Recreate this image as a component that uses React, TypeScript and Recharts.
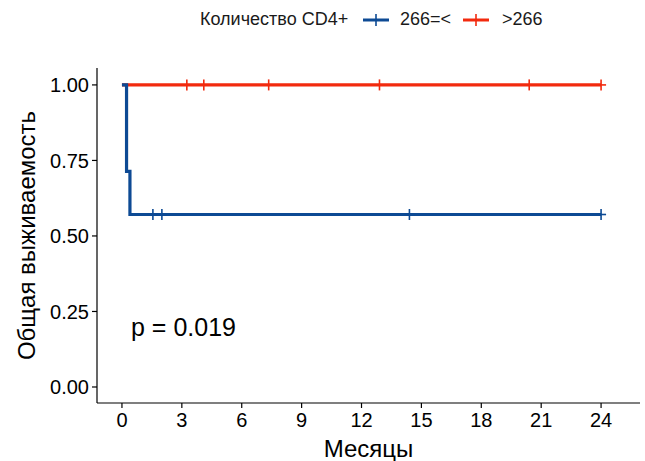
import { ComposedChart, Line, XAxis, YAxis } from 'recharts';

const lowTime = [0, 0.23, 0.4, 1.55, 2.0, 14.4, 24];
const lowSurv = [1, 0.714, 0.571, 0.571, 0.571, 0.571, 0.571];
const lowCensor = [false, false, false, true, true, true, true];

const highTime = [0, 3.25, 4.1, 7.35, 12.9, 20.4, 24];
const highSurv = [1, 1, 1, 1, 1, 1, 1];
const highCensor = [false, true, true, true, true, true, true];

const xTicks = [0, 3, 6, 9, 12, 15, 18, 21, 24];
const yTicks = [0, 0.25, 0.5, 0.75, 1];

const BLUE = '#0D4A94';
const RED = '#F22A0E';
const FONT = '"Liberation Sans", Arial, sans-serif';

const lowData = lowTime.map((t, i) => ({ time: t, surv: lowSurv[i], censor: lowCensor[i] }));
const highData = highTime.map((t, i) => ({ time: t, surv: highSurv[i], censor: highCensor[i] }));

const censorDot = (color: string) => (props: any) => {
  const { cx, cy, payload, index } = props;
  if (!payload || !payload.censor) return <g key={index} />;
  return (
    <g key={index}>
      <line x1={cx} x2={cx} y1={cy - 5.5} y2={cy + 5.5} stroke={color} strokeWidth={1.6} />
      <line x1={cx - 5} x2={cx + 5} y1={cy} y2={cy} stroke={color} strokeWidth={1.6} />
    </g>
  );
};

function LegendKey({ color, left }: { color: string; left: number }) {
  return (
    <svg width={26} height={12} style={{ position: 'absolute', left, top: 14 }}>
      <line x1={0} x2={26} y1={6} y2={6} stroke={color} strokeWidth={3} />
      <line x1={13} x2={13} y1={0} y2={12} stroke={color} strokeWidth={1.6} />
    </svg>
  );
}

const legendText = { position: 'absolute' as const, top: 9, fontSize: 18, color: '#1a1a1a', whiteSpace: 'nowrap' as const };

export default function App() {
  return (
    <div style={{ position: 'absolute', left: 0, top: 0, width: 645, height: 461, background: '#fff', fontFamily: FONT }}>
      <span style={{ ...legendText, left: 200 }}>Количество CD4+</span>
      <LegendKey color={BLUE} left={363} />
      <span style={{ ...legendText, left: 400 }}>266=&lt;</span>
      <LegendKey color={RED} left={463} />
      <span style={{ ...legendText, left: 502 }}>&gt;266</span>
      <ComposedChart width={645} height={461} margin={{ top: 68, right: 5, bottom: 0, left: 0 }}>
        <XAxis
          type="number"
          dataKey="time"
          domain={[-1.25, 25.95]}
          ticks={xTicks}
          allowDataOverflow
          stroke="#000"
          strokeWidth={1.2}
          tickSize={5}
          tickMargin={5}
          tick={{ fill: '#000', fontSize: 20, fontFamily: FONT }}
          height={58}
          label={{ value: 'Месяцы', position: 'insideBottom', offset: 4, fill: '#000', fontSize: 24, fontFamily: FONT }}
        />
        <YAxis
          type="number"
          domain={[-0.053, 1.056]}
          ticks={yTicks}
          allowDataOverflow
          tickFormatter={(v: number) => v.toFixed(2)}
          stroke="#000"
          strokeWidth={1.2}
          tickSize={5}
          tickMargin={3}
          tick={{ fill: '#000', fontSize: 20, fontFamily: FONT }}
          width={97}
          label={{ value: 'Общая выживаемость', angle: -90, position: 'insideLeft', offset: 26, fill: '#000', fontSize: 24, fontFamily: FONT, style: { textAnchor: 'middle' } }}
        />
        <Line
          data={highData}
          dataKey="surv"
          type="stepAfter"
          stroke={RED}
          strokeWidth={3.2}
          dot={censorDot(RED)}
          activeDot={false}
          isAnimationActive={false}
        />
        <Line
          data={lowData}
          dataKey="surv"
          type="stepAfter"
          stroke={BLUE}
          strokeWidth={3.2}
          dot={censorDot(BLUE)}
          activeDot={false}
          isAnimationActive={false}
        />
      </ComposedChart>
      <div style={{ position: 'absolute', left: 131, top: 313, fontSize: 25, color: '#000' }}>p = 0.019</div>
    </div>
  );
}
